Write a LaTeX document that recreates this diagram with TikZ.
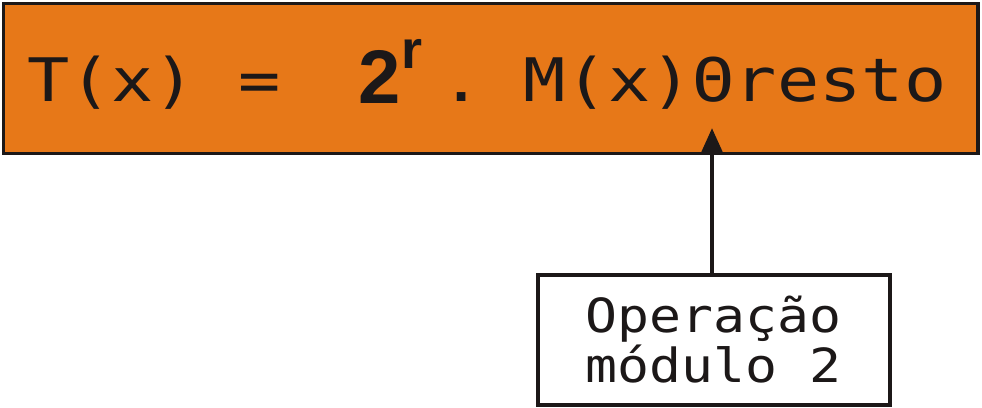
\documentclass[tikz,border=0pt]{standalone}
\usepackage{fontspec}
\usetikzlibrary{arrows.meta}
\newfontfamily\monoBig[FakeStretch=1.17]{DejaVu Sans Mono}
\newfontfamily\monoSmall[FakeStretch=1.13]{DejaVu Sans Mono}
\newfontfamily\boldSans{Liberation Sans Bold}
\definecolor{boxorange}{RGB}{231,120,24}
\definecolor{ink}{RGB}{28,24,24}
\tikzset{
  eqbox/.style={draw=ink, fill=boxorange, line width=3.5pt, inner sep=0pt,
    minimum width=974.5pt, minimum height=150pt},
  opbox/.style={draw=ink, fill=white, line width=4pt, inner sep=0pt,
    minimum width=352.5pt, minimum height=130pt, align=center,
    font=\monoSmall\fontsize{47}{50}\selectfont, text=ink},
  eqtext/.style={anchor=base west, inner sep=0pt, text=ink,
    font=\monoBig\fontsize{60}{60}\selectfont},
  pow/.style={anchor=base west, inner sep=0pt, text=ink},
  arrowline/.style={draw=ink, line width=4.5pt,
    -{Triangle[length=25pt,width=21pt]}}
}
\begin{document}
\begin{tikzpicture}[x=1pt,y=-1pt]
\useasboundingbox (0,0) rectangle (982,407);
\node[eqbox] (eq) at (490.75,78.5) {};
\node[eqtext] (lhs) at (27,101) {T(x) =};
\node[pow] (two) at (358,103) {{\boldSans\fontsize{76}{76}\selectfont 2}\kern1.5pt\raisebox{35pt}{\boldSans\fontsize{54}{54}\selectfont r}};
\node[eqtext] (rhs) at (440,101) {.\kern-1pt\ M(x)Θresto};
\node[opbox] (op) at (713.75,340) {Operação\\módulo 2};
\coordinate (tip) at (712,128);
\draw[arrowline] (op.north -| tip) -- (tip);
\end{tikzpicture}
\end{document}
